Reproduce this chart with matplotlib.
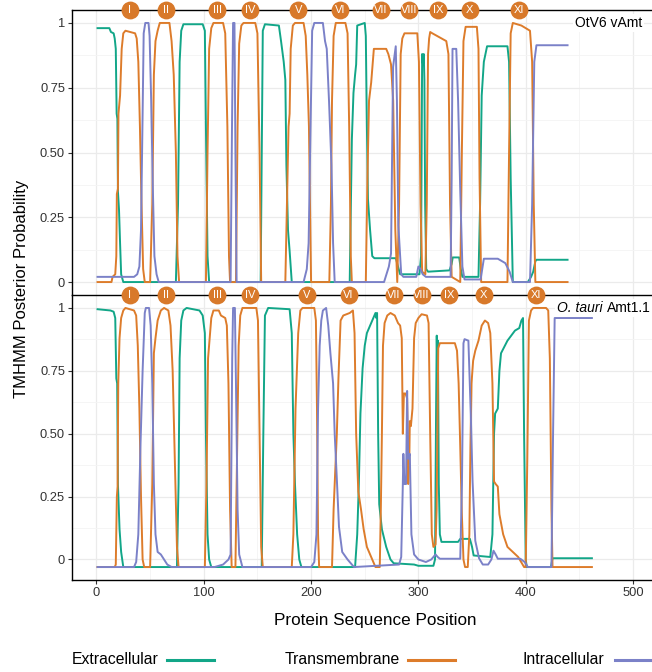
import numpy as np
import matplotlib.pyplot as plt
import matplotlib.transforms as mtransforms
from matplotlib.lines import Line2D
from matplotlib.ticker import MultipleLocator

plt.rcParams['font.family'] = ['Liberation Sans', 'DejaVu Sans']

# ---- data: TMHMM posterior traces, (position, probability) ----
otv6_ext = [(1, 0.98), (12, 0.98), (13.5, 0.965), (16, 0.96), (17, 0.94), (18, 0.90), (18.8, 0.65), (19.5, 0.63),
            (20, 0.35), (21, 0.28), (22, 0.15), (23, 0.03), (25, 0.0),
            (74, 0.0), (76, 0.3), (77.5, 0.85), (79, 0.97), (81, 0.995), (99, 0.995), (101, 0.97), (102, 0.6),
            (103.5, 0.1), (105, 0.0),
            (153, 0.0), (155, 0.97), (157, 0.995), (170, 0.99), (172, 0.93), (174.5, 0.85), (176, 0.78), (177, 0.45),
            (178.5, 0.2), (180, 0.12), (182, 0.0),
            (236, 0.0), (238, 0.55), (239.5, 0.73), (241, 0.8), (242, 0.84), (243, 0.99), (250, 1.0), (251, 0.95),
            (252, 0.6), (253, 0.32), (255, 0.2), (257, 0.1), (259, 0.092), (279, 0.092), (281, 0.06), (283, 0.03),
            (301, 0.03), (302.5, 0.1), (303.5, 0.88), (304.3, 0.84), (305, 0.88), (305.6, 0.78), (306.3, 0.3),
            (307.3, 0.05), (309, 0.04),
            (329, 0.045), (331, 0.07), (332, 0.095), (338, 0.095), (339.5, 0.05), (341, 0.02),
            (356, 0.02), (357.5, 0.3), (359, 0.72), (361, 0.85), (364, 0.91), (383, 0.91), (384.5, 0.85), (386, 0.4),
            (388, 0.0), (402, 0.0), (405, 0.02), (407, 0.04), (409, 0.08), (410, 0.086), (439, 0.086)]

otv6_tm = [(1, 0.0), (14, 0.0), (15, 0.02), (17.5, 0.03), (18.5, 0.1), (19, 0.34), (20, 0.36), (20.5, 0.65),
           (22, 0.72), (23.5, 0.9), (25, 0.96), (27, 0.97), (36, 0.96), (37.5, 0.94), (39, 0.85), (40.5, 0.6),
           (42, 0.3), (43.5, 0.05), (45, 0.0),
           (50, 0.0), (52, 0.3), (53.5, 0.8), (55, 0.93), (57, 0.97), (59, 1.0), (68, 1.0), (70, 0.93), (72, 0.8),
           (74, 0.5), (75.5, 0.1), (77, 0.0),
           (102, 0.0), (103.5, 0.5), (105, 0.9), (107, 0.98), (109, 1.0), (118, 1.0), (120, 0.96), (122, 0.6),
           (123.5, 0.1), (124.5, 0.0),
           (130, 0.0), (131.5, 0.6), (133, 0.92), (135, 0.99), (137, 1.0), (148, 1.0), (150, 0.96), (152, 0.5),
           (153.5, 0.0),
           (176, 0.0), (177.5, 0.3), (179, 0.6), (180, 0.65), (181, 0.9), (183, 0.99), (185, 1.0), (193, 1.0),
           (195, 0.95), (196.5, 0.8), (198, 0.6), (199, 0.3), (200, 0.0),
           (217, 0.0), (218.5, 0.3), (219.5, 0.7), (221, 0.95), (223, 1.0), (232, 1.0), (234, 0.96), (235.5, 0.6),
           (237, 0.1), (238, 0.0),
           (251, 0.0), (252.5, 0.4), (254, 0.7), (256, 0.77), (258.5, 0.9), (270, 0.9), (272, 0.88), (274.5, 0.84),
           (276.5, 0.7), (278.5, 0.2), (280.3, 0.0),
           (282, 0.3), (283.5, 0.88), (285, 0.94), (287, 0.96), (299, 0.96), (300.5, 0.85), (302, 0.3),
           (303.5, 0.04), (306.5, 0.03),
           (307.8, 0.3), (309, 0.88), (310, 0.94), (311, 0.965), (313, 0.96), (326, 0.93), (328, 0.88),
           (329.5, 0.3), (331, 0.02),
           (339, 0.0), (340.5, 0.5), (342, 0.93), (344, 0.985), (354.5, 0.985), (356, 0.9), (357, 0.4), (358.5, 0.0),
           (383, 0.0), (384.5, 0.5), (386, 0.96), (388, 1.0), (396, 0.99), (404, 0.97), (406, 0.85), (407.5, 0.3),
           (409, 0.0), (439, 0.0)]

otv6_int = [(1, 0.02), (35, 0.02), (38, 0.03), (40, 0.06), (41.5, 0.2), (43, 0.65), (44, 0.96), (45.5, 1.0),
            (48.5, 1.0), (49.5, 0.95), (51, 0.7), (52.5, 0.37), (54, 0.1), (56, 0.03), (58, 0.0),
            (125, 0.0), (126.3, 0.6), (127.3, 1.0), (128.6, 1.0), (129.5, 0.5), (130.6, 0.0),
            (193, 0.0), (196, 0.05), (197.7, 0.15), (199.5, 0.6), (201, 0.97), (203, 1.0), (211, 1.0), (213, 0.93),
            (214.6, 0.9), (216.7, 0.7), (219, 0.45), (220.5, 0.15), (222, 0.0),
            (268, 0.0), (272.5, 0.06), (274.5, 0.11), (276.4, 0.83), (278.9, 0.91), (280, 0.7), (281.3, 0.22),
            (284, 0.03), (286, 0.02),
            (298, 0.02), (300, 0.06), (302, 0.05), (304, 0.03), (307, 0.02),
            (330, 0.02), (331, 0.4), (331.8, 0.9), (335.3, 0.9), (337, 0.7), (338.9, 0.37), (341, 0.06), (343, 0.01),
            (358, 0.01), (359.5, 0.05), (361, 0.09), (374, 0.09), (381, 0.073), (385, 0.04), (388, 0.0),
            (404, 0.0), (406, 0.3), (408, 0.85), (410, 0.914), (439, 0.914)]

ot_ext = [(1, 0.995), (13, 0.99), (16, 0.985), (17.5, 0.96), (18.5, 0.72), (19.3, 0.7), (20, 0.3), (21.5, 0.12),
          (23, 0.03), (25, -0.03),
          (75, -0.03), (76.5, 0.3), (77.5, 0.8), (79, 0.95), (81, 0.99), (84, 1.0), (96, 0.99), (99, 0.97),
          (101, 0.9), (102, 0.5), (103.5, 0.1), (105, 0.0), (107, -0.03),
          (154, -0.03), (155.5, 0.5), (157, 0.97), (160, 1.0), (180, 0.995), (182, 0.9), (183.5, 0.5), (185, 0.3),
          (187, 0.1), (189, 0.0), (191, -0.03),
          (241, -0.03), (243, 0.1), (244.5, 0.3), (246, 0.58), (248, 0.76), (250, 0.85), (252, 0.9), (255, 0.93),
          (258, 0.96), (260, 0.98), (260.8, 0.96), (261.5, 0.98), (262.5, 0.5), (263.5, 0.22), (266, 0.12),
          (270, 0.05), (274, 0.0), (277, -0.015),
          (296, -0.02), (300, -0.025), (314, -0.025), (315.5, 0.0), (316.5, 0.6), (317.1, 0.89), (317.6, 0.75),
          (318.2, 0.87), (319, 0.3), (320, 0.1), (321.5, 0.07), (337, 0.07), (339, 0.082), (348, 0.082),
          (350, 0.05), (351.5, 0.016), (367, 0.01),
          (369, 0.1), (370.5, 0.5), (371.5, 0.58), (374, 0.6), (375.5, 0.75), (377, 0.82), (383, 0.87), (390, 0.91),
          (394, 0.92), (396, 0.95), (397.5, 0.96), (398.5, 0.5), (400, 0.0), (401, -0.03),
          (423.5, -0.03), (425, 0.005), (461.7, 0.005)]

ot_tm = [(1, -0.03), (17, -0.03), (18, -0.02), (19, 0.25), (19.7, 0.29), (20.3, 0.7), (21.5, 0.88), (23, 0.96),
         (25, 0.99), (27, 1.0), (35, 0.99), (37, 0.97), (38.5, 0.85), (40, 0.6), (41.5, 0.25), (43, 0.0),
         (44.5, -0.03),
         (50, -0.03), (52, 0.3), (53.5, 0.82), (55, 0.88), (57, 0.95), (60, 0.99), (63, 1.0), (67, 0.99),
         (69, 0.93), (71, 0.75), (73, 0.4), (75, 0.05), (76.5, -0.03),
         (101, -0.03), (102.5, 0.3), (104, 0.8), (105.5, 0.88), (107, 0.96), (109, 0.99), (114, 0.99), (116, 0.97),
         (120, 0.96), (121.5, 0.93), (123, 0.7), (124.5, 0.2), (126, -0.03),
         (129.5, -0.03), (131, 0.4), (132.5, 0.85), (134, 0.97), (136, 1.0), (149, 1.0), (150.5, 0.95), (152, 0.5),
         (153.5, 0.05), (155, -0.03),
         (182, -0.03), (183.5, 0.1), (184.5, 0.35), (185.5, 0.6), (186.5, 0.72), (188, 0.9), (190, 0.99),
         (192, 1.0), (203, 1.0), (204.5, 0.95), (205.5, 0.6), (206.5, 0.1), (207.5, -0.03),
         (219.5, -0.03), (221, 0.2), (222.5, 0.35), (224, 0.5), (225.5, 0.72), (227.5, 0.95), (230, 0.97),
         (236, 0.98), (239, 0.99), (240.5, 0.9), (242, 0.5), (244, 0.27), (246.5, 0.2), (249, 0.12), (252, 0.05),
         (256, 0.01), (260, -0.03),
         (264, -0.03), (265, 0.2), (266, 0.5), (267, 0.85), (268.5, 0.94), (271, 0.97), (274, 0.98), (278, 0.97),
         (281, 0.94), (283, 0.93), (284.5, 0.88), (285.5, 0.5), (286.5, 0.66), (288, 0.66), (289.5, 0.64),
         (290.5, 0.3), (291.5, 0.38), (292, 0.55), (293, 0.53), (294.5, 0.6),
         (296, 0.88), (297.5, 0.94), (300, 0.96), (303, 0.975), (308, 0.97), (309.5, 0.94), (311, 0.5),
         (312.5, 0.1), (314, 0.05), (316, 0.06), (317, 0.2), (318.5, 0.84), (320, 0.86), (334, 0.86), (336, 0.83),
         (337.5, 0.7), (339, 0.45), (340.5, 0.18), (342, 0.0), (343.5, -0.03),
         (346, -0.03), (347.5, 0.1), (348.5, 0.45), (349.5, 0.7), (351, 0.79), (353, 0.83), (356, 0.87),
         (359, 0.93), (362, 0.95), (365, 0.94), (367, 0.9), (369, 0.7), (370.5, 0.31), (372, 0.3), (374, 0.29),
         (375.5, 0.18), (379, 0.1), (383, 0.05), (393, 0.01), (398.5, -0.03),
         (400, -0.03), (401.5, 0.4), (403, 0.95), (405, 0.99), (407, 1.0), (419, 1.0), (421, 0.99), (422.5, 0.8),
         (424, 0.2), (425, -0.03), (461.7, -0.03)]

ot_int = [(1, -0.03), (35, -0.03), (37, -0.01), (39, 0.1), (41, 0.45), (43, 0.75), (45, 0.98), (46, 1.0),
          (49, 1.0), (50.5, 0.93), (52, 0.7), (53.5, 0.3), (55, 0.1), (57, 0.03), (60, 0.02), (66, -0.02),
          (70, -0.03),
          (110, -0.03), (118, -0.02), (123, 0.0), (125, 0.02), (126.5, 0.8), (127.3, 1.0), (129, 1.0), (130, 0.7),
          (131.5, 0.2), (133, 0.02), (136, -0.03),
          (200, -0.03), (203, -0.01), (205, 0.1), (206.5, 0.6), (208, 0.85), (209.5, 0.95), (211, 0.99), (214, 1.0),
          (216, 0.93), (218, 0.82), (220.5, 0.7), (222, 0.5), (224, 0.32), (226, 0.13), (229, 0.03), (234, 0.0),
          (240, -0.03),
          (282, -0.02), (284, 0.01), (285.5, 0.3), (286, 0.42), (287, 0.3), (288.5, 0.3), (289.5, 0.67),
          (290.5, 0.4), (292, 0.42), (293.5, 0.1), (296, 0.02), (300, 0.0), (307, -0.01), (312, 0.0),
          (316, 0.02), (318, 0.01), (320, 0.003), (339, 0.003), (340.6, 0.3), (342, 0.86), (343, 0.876),
          (346.6, 0.87), (348.8, 0.58), (350.5, 0.31), (353, 0.075), (356.5, 0.005), (360, -0.02), (365, -0.02),
          (368, 0.0), (370, 0.035), (372, 0.02), (374, 0.003), (395, 0.003), (399, -0.01), (402, -0.03),
          (424, -0.03), (425.5, 0.5), (427, 0.96), (461.7, 0.96)]

helix_labels = ['I', 'II', 'III', 'IV', 'V', 'VI', 'VII', 'VIII', 'IX', 'X', 'XI']
otv6_helix_pos = [31, 64.7, 112.4, 143, 188, 227, 265, 291.5, 318.7, 348, 394]
ot_helix_pos = [31, 64.7, 112.4, 143, 196, 235, 277, 303, 328.6, 361, 410]

col_ext = '#12A688'
col_tm = '#DD7C2B'
col_int = '#7B81C8'
col_circle = '#D8792A'

W, H = 652, 672
fig = plt.figure(figsize=(W / 100, H / 100), dpi=100)


def px_axes(left, top, right, bottom):
    return fig.add_axes([left / W, 1 - bottom / H, (right - left) / W, (bottom - top) / H])


ax_top = px_axes(72, 10, 652, 295)
ax_bot = px_axes(72, 295, 652, 580)

panels = [
    (ax_top, otv6_ext, otv6_tm, otv6_int, otv6_helix_pos, (-0.05, 1.05)),
    (ax_bot, ot_ext, ot_tm, ot_int, ot_helix_pos, (-0.0815, 1.0515)),
]

for ax, ext, tm, intra, helix_pos, ylim in panels:
    for pts, c in [(ext, col_ext), (tm, col_tm), (intra, col_int)]:
        arr = np.array(pts)
        ax.plot(arr[:, 0], arr[:, 1], color=c, lw=1.4, solid_joinstyle='round', zorder=3)

    ax.set_xlim(-22.8, 517.7)
    ax.set_ylim(*ylim)
    ax.set_yticks([0, 0.25, 0.5, 0.75, 1])
    ax.set_yticklabels(['0', '0.25', '0.50', '0.75', '1'])
    ax.set_xticks([0, 100, 200, 300, 400, 500])
    ax.xaxis.set_minor_locator(MultipleLocator(50))
    ax.yaxis.set_minor_locator(MultipleLocator(0.125))
    ax.grid(which='major', color='#EBEBEB', lw=0.9)
    ax.grid(which='minor', color='#F4F4F4', lw=0.6)
    ax.set_axisbelow(True)
    ax.tick_params(which='minor', length=0)
    ax.tick_params(axis='y', length=3, width=0.8, color='#333333', labelsize=9.3, labelcolor='#333333', pad=2)
    ax.spines['right'].set_visible(False)
    ax.spines['bottom'].set_visible(False)
    for s in ['left', 'top']:
        ax.spines[s].set_color('black')
        ax.spines[s].set_linewidth(1.0)

    # helix markers sitting on the top line of each panel
    trans = mtransforms.blended_transform_factory(ax.transData, ax.transAxes)
    ax.scatter(helix_pos, [1.0] * len(helix_pos), s=165, color=col_circle, transform=trans,
               clip_on=False, zorder=8, linewidths=0)
    for xp, lab in zip(helix_pos, helix_labels):
        ax.text(xp, 1.0, lab, transform=trans, ha='center', va='center', color='white',
                fontsize=8, zorder=9, clip_on=False)

ax_top.tick_params(axis='x', length=0, labelbottom=False)
ax_bot.spines['bottom'].set_visible(True)
ax_bot.spines['bottom'].set_color('black')
ax_bot.spines['bottom'].set_linewidth(1.0)
ax_bot.tick_params(axis='x', length=3, width=0.8, color='#333333', labelsize=9.3, labelcolor='#333333', pad=2)

box = dict(fc='white', ec='none', pad=1.5)
ax_top.text(477, 1.0, 'OtV6 vAmt', ha='center', va='center', fontsize=10, bbox=box, zorder=6)
ax_bot.text(472, 1.0, 'O. tauri', style='italic', ha='right', va='center', fontsize=10, bbox=box, zorder=6)
ax_bot.text(475.5, 1.0, 'Amt1.1', ha='left', va='center', fontsize=10, bbox=box, zorder=6)

fig.text(22 / W, 1 - 289 / H, 'TMHMM Posterior Probability', rotation=90, ha='center', va='center', fontsize=12)
fig.text(375 / W, 1 - 620 / H, 'Protein Sequence Position', ha='center', va='center', fontsize=12.3)

# legend along the bottom: label first, then the line key
legend_items = [('Extracellular', col_ext, 72, 167), ('Transmembrane', col_tm, 285, 408),
                ('Intracellular', col_int, 522, 615)]
ly = 1 - 660 / H
for lab, c, tx, kx in legend_items:
    fig.text(tx / W, ly, lab, ha='left', va='center', fontsize=11.3)
    fig.add_artist(Line2D([kx / W, (kx + 47) / W], [ly, ly], color=c, lw=2.2, transform=fig.transFigure))

fig.savefig('out.png', dpi=100)
